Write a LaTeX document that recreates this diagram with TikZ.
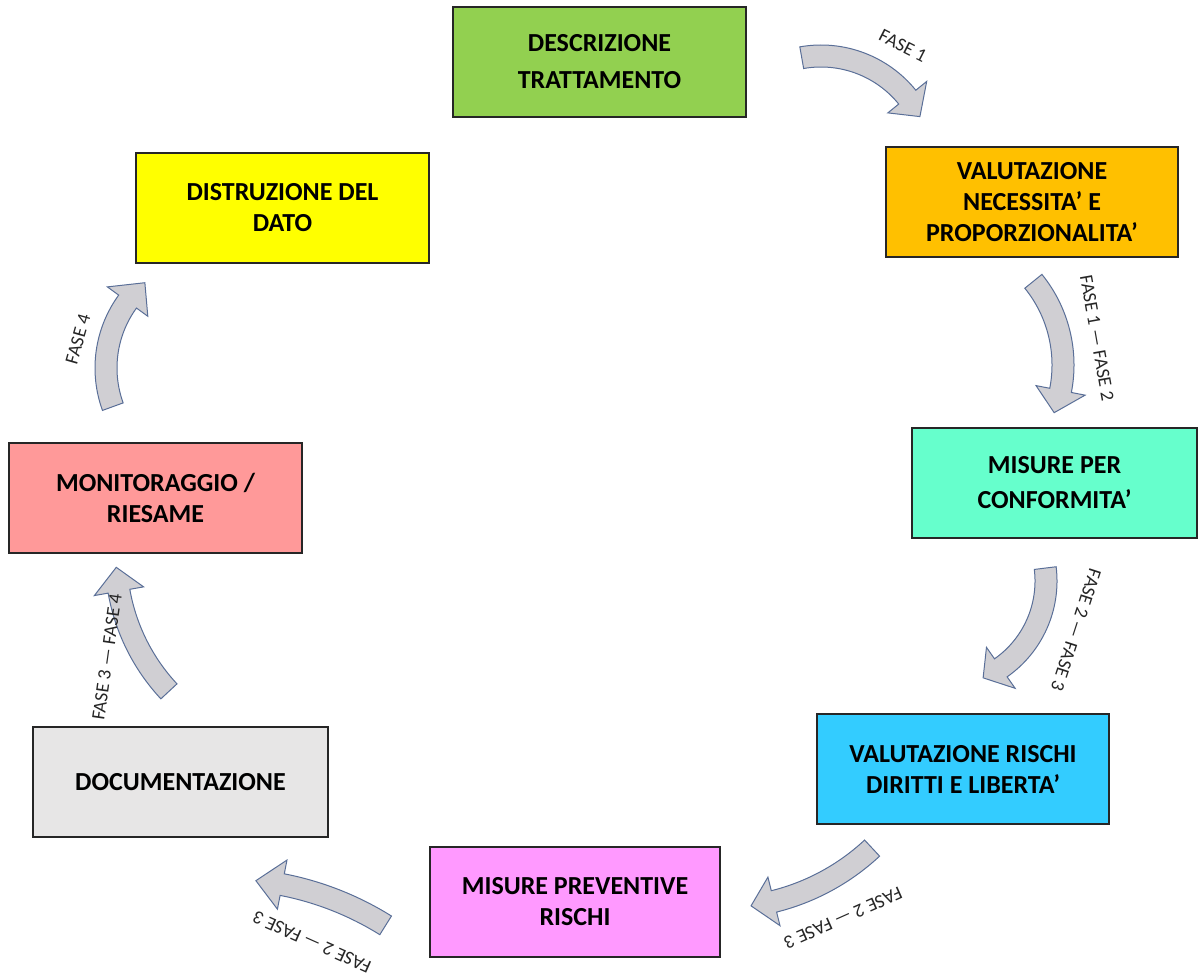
\documentclass[tikz,border=0pt]{standalone}
\usepackage{fontspec}
\setmainfont{Carlito}
\usetikzlibrary{positioning}
\definecolor{descgreen}{HTML}{92D050}
\definecolor{valorange}{HTML}{FFC000}
\definecolor{confmint}{HTML}{66FFCC}
\definecolor{riskcyan}{HTML}{33CCFF}
\definecolor{prevpink}{HTML}{FF99FF}
\definecolor{docgrey}{HTML}{E7E6E6}
\definecolor{monsalmon}{HTML}{FF9999}
\definecolor{distyellow}{HTML}{FFFF00}
\definecolor{arrowfill}{HTML}{D0CFD3}
\definecolor{arrowedge}{HTML}{5A6F98}

\tikzset{
  box/.style={draw=black!85, line width=1.3pt, minimum width=293pt, minimum height=110pt,
    align=center, inner sep=0pt, font=\bfseries\fontsize{26}{31}\selectfont},
  bentarrow/.style={fill=arrowfill, draw=arrowedge, line width=1pt},
  faselabel/.style={inner sep=0pt, text=black!85, font=\fontsize{19}{22}\selectfont}
}

% curved block arrow: centre, radius, tail angle, head base angle, tip angle
\newcommand{\fasearrow}[5]{%
  \pgfmathsetmacro{\arcout}{#2+11}\pgfmathsetmacro{\arcin}{#2-11}%
  \pgfmathsetmacro{\headout}{#2+25}\pgfmathsetmacro{\headin}{#2-25}%
  \begin{scope}[shift={#1}]
    \filldraw[bentarrow] (#3:\arcout) arc[start angle=#3, end angle=#4, radius=\arcout]
      -- (#4:\headout) -- (#5:#2) -- (#4:\headin) -- (#4:\arcin)
      arc[start angle=#4, end angle=#3, radius=\arcin] -- cycle;
  \end{scope}}

\begin{document}
\begin{tikzpicture}[x=1pt, y=1pt]
\useasboundingbox (0,0) rectangle (1198,-977);

% phases
\node[box, fill=descgreen, font=\bfseries\fontsize{26}{37}\selectfont] at (599.5,-62) (desc) {DESCRIZIONE\\TRATTAMENTO};
\node[box, fill=valorange, minimum width=292pt] at (1032,-202) (valut) {VALUTAZIONE\\NECESSITA’ E\\PROPORZIONALITA’};
\node[box, fill=confmint, minimum width=285pt, font=\bfseries\fontsize{26}{35}\selectfont] at (1054.5,-483) (conf) {MISURE PER\\CONFORMITA’};
\node[box, fill=riskcyan, minimum width=292pt] at (963,-769) (rischi) {VALUTAZIONE RISCHI\\DIRITTI E LIBERTA’};
\node[box, fill=prevpink, minimum width=290pt] at (575,-902) (prev) {MISURE PREVENTIVE\\RISCHI};
\node[box, fill=docgrey, minimum width=295pt] at (180.5,-782) (doc) {DOCUMENTAZIONE};
\node[box, fill=monsalmon] at (155.5,-498) (monit) {MONITORAGGIO /\\RIESAME};
\node[box, fill=distyellow] at (282.5,-208) (distr) {DISTRUZIONE DEL\\DATO};

% arrows
\fasearrow{(821,-167)}{111}{100}{39}{27}
\fasearrow{(930,-365)}{133}{39}{-11}{-21}
\fasearrow{(940,-581)}{106}{7}{-55}{-66}
\fasearrow{(720,-685)}{223}{-47}{-76}{-82}
\fasearrow{(224,-1184)}{305}{58}{79}{84}
\fasearrow{(313,-557)}{197}{223}{190}{183}
\fasearrow{(219,-368)}{113}{200}{144}{131}

% labels
\node[faselabel, rotate=-27] at (903,-46) (f1) {FASE 1};
\node[faselabel, rotate=-80] at (1097,-338) (f12) {FASE 1 — FASE 2};
\node[faselabel, rotate=-108] at (1076,-630) (f23a) {FASE 2 — FASE 3};
\node[faselabel, rotate=-156] at (843,-918) (f23b) {FASE 2 — FASE 3};
\node[faselabel, rotate=156] at (312,-942) (f23c) {FASE 2 — FASE 3};
\node[faselabel, rotate=82] at (107,-657) (f34) {FASE 3 — FASE 4};
\node[faselabel, rotate=74] at (78,-339) (f4) {FASE 4};
\end{tikzpicture}
\end{document}
